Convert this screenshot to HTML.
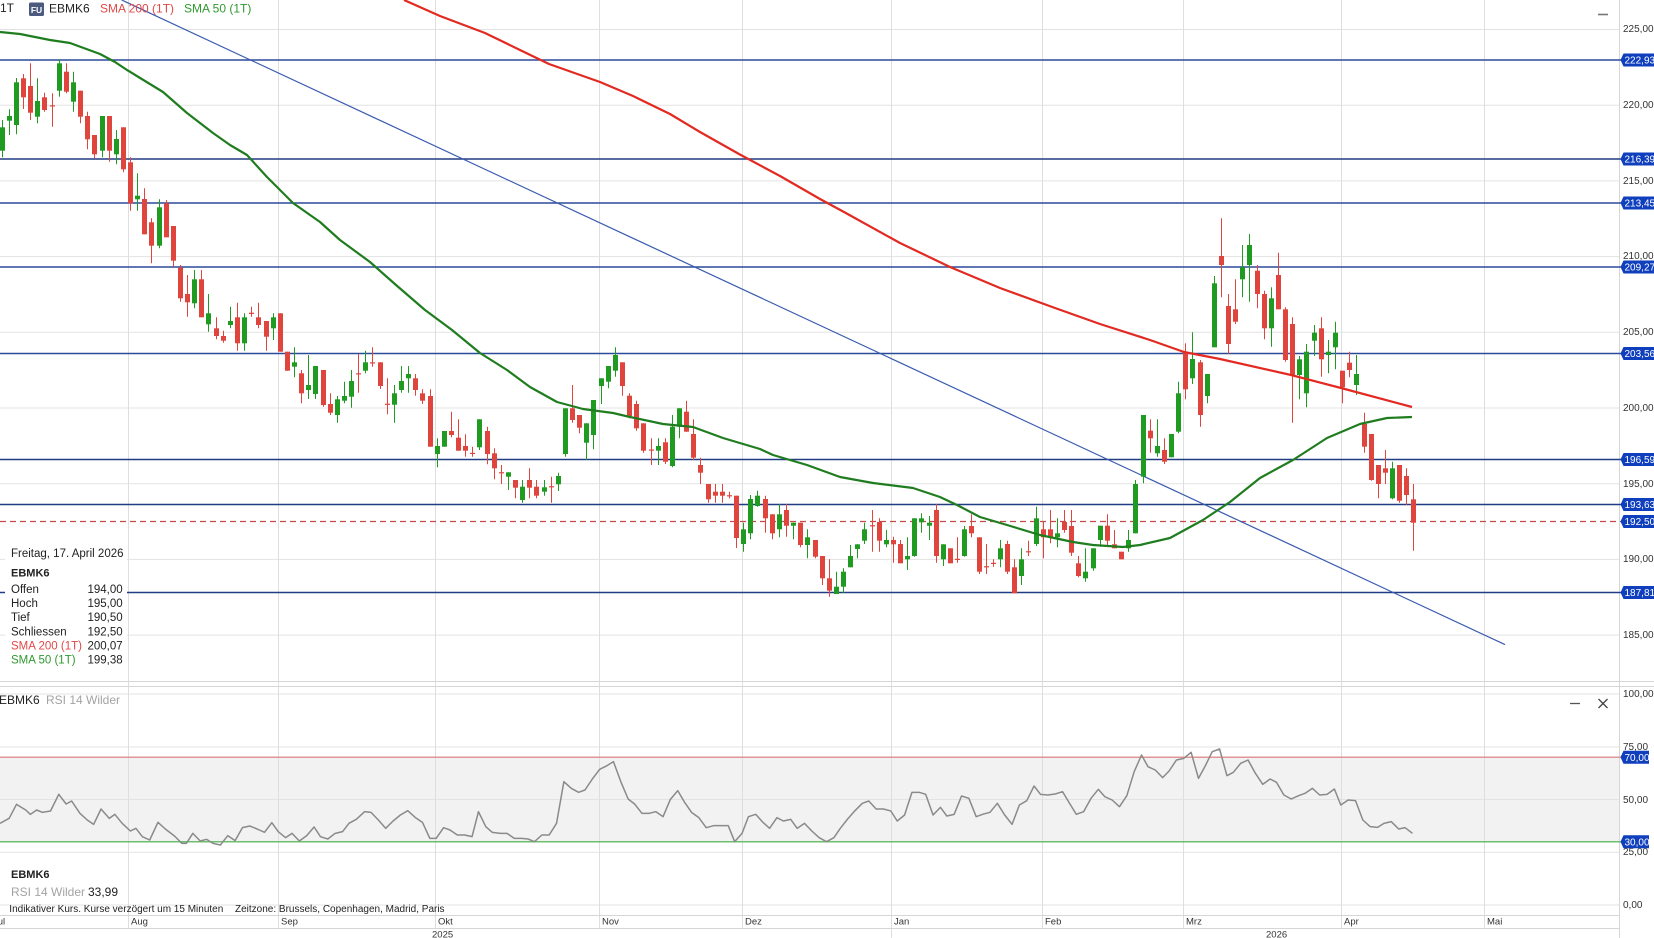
<!DOCTYPE html>
<html><head><meta charset="utf-8"><style>
html,body{margin:0;padding:0;background:#fff;}
svg{display:block;}
text{font-family:"Liberation Sans",Arial,sans-serif;}
</style></head><body>
<svg id="c" width="1654" height="938" viewBox="0 0 1654 938" xmlns="http://www.w3.org/2000/svg">
<rect x="0" y="0" width="1654" height="938" fill="#fff"/>
<rect x="0" y="757.3" width="1619" height="84.4" fill="#f2f2f2"/>
<g stroke="#e3e3e3" stroke-width="1">
<line x1="0" y1="29.5" x2="1619" y2="29.5"/>
<line x1="0" y1="105.2" x2="1619" y2="105.2"/>
<line x1="0" y1="180.9" x2="1619" y2="180.9"/>
<line x1="0" y1="256.6" x2="1619" y2="256.6"/>
<line x1="0" y1="332.3" x2="1619" y2="332.3"/>
<line x1="0" y1="408" x2="1619" y2="408"/>
<line x1="0" y1="483.7" x2="1619" y2="483.7"/>
<line x1="0" y1="559.4" x2="1619" y2="559.4"/>
<line x1="0" y1="635.1" x2="1619" y2="635.1"/>
<line x1="0" y1="694" x2="1619" y2="694"/>
<line x1="0" y1="747" x2="1619" y2="747"/>
<line x1="0" y1="799.5" x2="1619" y2="799.5"/>
<line x1="0" y1="852.3" x2="1619" y2="852.3"/>
<line x1="0" y1="905" x2="1619" y2="905"/>
</g>
<g stroke="#dedede" stroke-width="1">
<line x1="128.5" y1="0" x2="128.5" y2="928"/>
<line x1="278.5" y1="0" x2="278.5" y2="928"/>
<line x1="435.5" y1="0" x2="435.5" y2="928"/>
<line x1="599.5" y1="0" x2="599.5" y2="928"/>
<line x1="742.5" y1="0" x2="742.5" y2="928"/>
<line x1="891.5" y1="0" x2="891.5" y2="938"/>
<line x1="1042.5" y1="0" x2="1042.5" y2="928"/>
<line x1="1183.5" y1="0" x2="1183.5" y2="928"/>
<line x1="1341.5" y1="0" x2="1341.5" y2="928"/>
<line x1="1484.5" y1="0" x2="1484.5" y2="928"/>
</g>
<g stroke="#d6d6d6" stroke-width="1">
<line x1="0" y1="681.5" x2="1654" y2="681.5"/>
<line x1="0" y1="686.5" x2="1654" y2="686.5"/>
<line x1="0" y1="915.5" x2="1619" y2="915.5"/>
<line x1="0" y1="928.5" x2="1619" y2="928.5"/>
<line x1="1619.5" y1="0" x2="1619.5" y2="938"/>
</g>
<g stroke="#2b4a9c" stroke-width="1.5">
<line x1="0" y1="60" x2="1621" y2="60"/>
<line x1="0" y1="159" x2="1621" y2="159" stroke="#203c84"/>
<line x1="0" y1="203" x2="1621" y2="203"/>
<line x1="0" y1="267" x2="1621" y2="267"/>
<line x1="0" y1="353.5" x2="1621" y2="353.5"/>
<line x1="0" y1="459.5" x2="1621" y2="459.5" stroke="#203c84"/>
<line x1="0" y1="504.5" x2="1621" y2="504.5" stroke="#203c84"/>
<line x1="0" y1="592.5" x2="1621" y2="592.5" stroke="#203c84"/>
</g>
<line x1="0" y1="521.5" x2="1621" y2="521.5" stroke="#c24a4a" stroke-width="1.2" stroke-dasharray="6,4"/>
<line x1="121.7" y1="0" x2="1505" y2="644.6" stroke="#3a5bb0" stroke-width="1.2"/>
<g id="candles"></g>
<polyline fill="none" stroke="#e22a22" stroke-width="2.2" stroke-linejoin="round" points="404,0 440,16 485,33 520,50 549,64 600,82 633,96 670,114 700,132 739,154 780,176 820,199 844,212 900,243 950,267 1000,288 1055,308 1100,324 1150,340 1184,352 1220,359 1291,375 1341,388 1412,407"/>
<polyline fill="none" stroke="#1f7d1f" stroke-width="2.2" stroke-linejoin="round" points="0,32 20,34 50,40 70,43 100,54 115,62 127,70 145,81 163,92 187,113 213,133 230,145 247,155 267,177 293,203 320,222 340,240 370,262 396,285 425,310 452,330 480,353 507,370 530,387 557,402 583,409 613,413 630,417 663,424 693,427 723,438 760,449 773,455 807,465 840,477 873,483 913,488 940,497 957,505 980,517 1007,525 1040,535 1073,542 1093,545 1123,547 1140,545 1170,538 1203,520 1230,502 1260,478 1293,460 1327,438 1360,424 1387,418 1412,417"/>
<line x1="0" y1="757.3" x2="1621" y2="757.3" stroke="#e39494" stroke-width="1.5"/>
<line x1="0" y1="841.7" x2="1621" y2="841.7" stroke="#6cbf6c" stroke-width="1.5"/>
<polyline fill="none" stroke="#8a8a8a" stroke-width="1.5" vector-effect="non-scaling-stroke" stroke-linejoin="round" transform="translate(0 705) scale(0.91836 0.333333)" points="0,355 10,340 18,298 28,315 33,328 40,315 46,322 55,318 64,268 72,297 78,288 87,325 95,345 102,358 110,312 119,340 125,328 133,355 142,378 148,370 155,395 163,405 172,352 180,372 190,393 198,415 203,415 210,385 218,408 225,403 232,415 240,420 248,392 256,407 264,368 272,363 280,372 288,382 296,353 303,380 311,398 318,385 326,408 334,392 342,366 349,395 357,402 365,385 373,380 380,355 388,343 397,320 404,322 412,345 420,370 428,348 436,330 444,317 452,337 460,352 468,400 475,400 483,368 490,375 498,390 506,390 514,395 521,320 529,365 536,382 545,385 552,385 560,400 568,400 575,402 582,410 590,390 598,390 606,355 614,230 622,250 630,262 637,255 645,222 653,193 661,182 668,170 676,230 684,282 691,297 699,325 707,325 714,320 722,335 730,283 738,257 745,290 753,322 761,338 769,368 777,362 785,362 793,362 800,410 808,385 815,335 823,328 830,350 838,370 846,338 853,348 861,343 868,370 876,355 884,378 892,398 900,410 908,398 915,370 923,342 931,317 939,295 946,288 954,312 962,312 970,318 977,348 985,330 993,262 1001,262 1008,268 1016,330 1024,307 1031,333 1039,328 1047,273 1055,280 1063,335 1070,328 1078,322 1086,295 1094,330 1102,358 1110,300 1118,287 1126,243 1133,268 1141,270 1149,267 1157,260 1164,292 1172,328 1180,320 1188,280 1196,253 1203,275 1211,285 1219,305 1227,272 1235,200 1243,150 1250,185 1258,195 1266,218 1273,198 1281,165 1289,160 1297,142 1305,220 1312,185 1320,140 1328,132 1336,212 1343,202 1351,175 1359,165 1367,205 1375,238 1383,222 1390,232 1398,270 1406,282 1414,272 1421,265 1429,250 1437,270 1445,268 1453,252 1460,300 1468,285 1476,287 1484,345 1492,365 1500,367 1507,355 1515,350 1523,372 1530,368 1538,385"/>

<g font-size="10" fill="#333">
<text x="1623" y="32">225,00</text>
<text x="1623" y="108">220,00</text>
<text x="1623" y="184">215,00</text>
<text x="1623" y="259">210,00</text>
<text x="1623" y="335">205,00</text>
<text x="1623" y="411">200,00</text>
<text x="1623" y="487">195,00</text>
<text x="1623" y="562">190,00</text>
<text x="1623" y="638">185,00</text>
<text x="1623" y="697">100,00</text>
<text x="1623" y="750">75,00</text>
<text x="1623" y="803">50,00</text>
<text x="1623" y="855">25,00</text>
<text x="1623" y="908">0,00</text>
</g>
<g id="boxes"></g>

<rect x="5" y="537" width="122" height="139" fill="#fff"/>
<g font-size="11.5" fill="#222">
<text x="11" y="557">Freitag, 17. April 2026</text>
<text x="11" y="576.5" font-weight="bold" font-size="11">EBMK6</text>
<text x="11" y="593">Offen</text>
<text x="11" y="607">Hoch</text>
<text x="11" y="621">Tief</text>
<text x="11" y="635.5">Schliessen</text>
<text x="11" y="649.5" fill="#e04848">SMA 200 (1T)</text>
<text x="11" y="663.5" fill="#2f9a2f">SMA 50 (1T)</text>
<g text-anchor="end">
<text x="122.7" y="593">194,00</text>
<text x="122.7" y="607">195,00</text>
<text x="122.7" y="621">190,50</text>
<text x="122.7" y="635.5">192,50</text>
<text x="122.7" y="649.5">200,07</text>
<text x="122.7" y="663.5">199,38</text>
</g>
</g>

<g font-size="12">
<text x="0" y="12" fill="#222">1T</text>
<rect x="29" y="2.5" width="15" height="13.5" rx="1.5" fill="#4d5a80"/>
<text x="36.5" y="13" font-size="8.5" font-weight="bold" fill="#fff" text-anchor="middle">FU</text>
<text x="49" y="12.5" fill="#222">EBMK6</text>
<text x="100" y="12.5" fill="#e04848">SMA 200 (1T)</text>
<text x="184" y="12.5" fill="#2f9a2f">SMA 50 (1T)</text>
</g>
<line x1="1598" y1="14.5" x2="1608" y2="14.5" stroke="#777" stroke-width="1.6"/>

<g font-size="12">
<text x="-1" y="704" fill="#222">EBMK6</text>
<text x="46" y="704" fill="#a3a3a3">RSI 14 Wilder</text>
</g>
<line x1="1570" y1="703.5" x2="1580" y2="703.5" stroke="#555" stroke-width="1.3"/>
<path d="M1598.5,699 L1607.5,708 M1607.5,699 L1598.5,708" stroke="#444" stroke-width="1.3"/>

<g font-size="12">
<text x="11" y="878" fill="#222" font-weight="bold" font-size="11">EBMK6</text>
<text x="11" y="896" fill="#a3a3a3">RSI 14 Wilder</text>
<text x="88" y="896" fill="#222">33,99</text>
</g>
<g font-size="10" fill="#222">
<text x="9.3" y="912">Indikativer Kurs. Kurse verzögert um 15 Minuten</text>
<text x="235" y="912">Zeitzone: Brussels, Copenhagen, Madrid, Paris</text>
</g>
<g font-size="9.5" fill="#333">
<text x="-7" y="924.5">Jul</text>
<text x="131" y="924.5">Aug</text>
<text x="281" y="924.5">Sep</text>
<text x="438" y="924.5">Okt</text>
<text x="602" y="924.5">Nov</text>
<text x="745" y="924.5">Dez</text>
<text x="894" y="924.5">Jan</text>
<text x="1045" y="924.5">Feb</text>
<text x="1186" y="924.5">Mrz</text>
<text x="1344" y="924.5">Apr</text>
<text x="1487" y="924.5">Mai</text>
<text x="432" y="937.5">2025</text>
<text x="1266" y="937.5">2026</text>
</g>
</svg>
<script>
(function(){
var NS="http://www.w3.org/2000/svg";
var d=[
[127.3,150.7,120,157.3,1],[116,120.7,109.3,135,1],[82.3,125,78,134.3,1],[78.3,97.3,74,109,0],[86,112.7,63.3,120,0],
[101,116.7,78.3,123.3,1],[97.3,110,92.7,111.7,0],[105.3,106.3,93.3,126.7,0],[63.3,90.7,59.3,96.7,1],[71.7,91.7,63.3,93.3,0],
[82.3,101.7,71.7,111.7,1],[90.7,116.7,90.7,123.3,0],[116,139.3,111.7,149.3,0],[135,154.3,135,158.3,0],[116,150.7,116,157.3,1],
[116,150.7,116,161.7,0],[139,154.3,130,164.3,1],[127.3,169.3,127.3,172.3,0],[162.3,203.3,157.3,210.7,0],[195.7,199.3,173.3,210.7,1],
[199,234.3,188.3,234.3,0],[222.3,245.7,218.3,263.3,0],[207.3,245.7,199.3,248.3,1],[203.3,237.3,200,237.3,0],[226,260.7,226,266.7,0],
[267.7,298.3,265,301.7,0],[294,302.3,275,316.7,0],[279.3,303.3,270,308.3,1],[279.3,317.3,270,317.3,0],[313.3,324.3,294,331.7,1],
[328.3,336,317.3,339.3,0],[336,340.7,330.7,342.7,0],[321,325,306.7,328.3,1],[317.3,343.3,302.7,350.7,0],[317.3,343.3,313.3,350.7,1],
[312.7,314,306.7,316.7,0],[317.3,325,302.7,328.3,0],[321,336.7,321,350.7,0],[317.3,328.3,313.3,340,1],[313.3,351.7,313.3,351.7,0],
[351.7,370.7,351.7,370.7,0],[362.3,366.7,347.3,377.3,1],[373.3,393.3,370,403.3,0],[385,390,355,399,1],[366,394,366,399,1],
[370,405,370,406.7,0],[404,412.7,393.3,415,0],[399.3,415,396,422.7,1],[396,400.7,381.7,403.3,1],[381,396.7,370,407.7,1],
[373.3,374.3,354,392.7,0],[362.3,370.7,350.7,373.3,1],[362.3,363.3,347.3,366.7,0],[362.3,386,362.3,389,0],[403.7,404.7,378.3,414.3,0],
[393.3,404.7,385,422.7,1],[381,390,366,392.7,1],[374,378.3,366,392.7,1],[378.3,390,374,395.7,0],[393.3,400.7,389.3,404,0],
[396,446.7,389.3,446.7,0],[446,454,438.3,467.3,1],[431,446.7,431,446.7,1],[431,435,411.7,437.3,0],[437.7,450.7,419.3,450.7,0],
[446,450.7,434.3,456.7,0],[452.8,453.8,446.7,456.7,0],[419.3,447.3,419.3,450,1],[431,454,426.7,464.3,0],[453.3,468.3,448.3,479.3,0],
[472.2,473.2,465,484,0],[472.3,476.7,472.3,490,1],[480,487.7,480,498.3,0],[486.7,500,480,502.7,1],[480,487.7,468.3,498.3,0],
[486.7,495.7,480,498.3,0],[487.3,491.7,480,495.7,1],[486.2,487.2,476.7,502.7,0],[476,484.3,472.7,491,1],[408.3,454,408.3,456.7,1],
[408.3,420,385,422.7,0],[415,427.7,415,433.3,0],[423.3,442.7,423.3,460,1],[400,435,400,449.3,1],[378.3,386,378.3,404,1],
[366,381.7,366,388.3,1],[355,370.7,347.3,376.7,1],[362.3,386,362.3,395.7,0],[395.7,416,393.3,418.3,0],[404,428.3,400.7,430.7,0],
[423.3,450.7,423.3,452.7,0],[449.5,450.5,438.3,465,0],[446,450.7,438.3,465,1],[442.3,461.7,438.3,464,0],[426.7,466,415,467.3,1],
[408.3,426.7,408.3,438.3,1],[411.7,431.7,400.7,431.7,0],[434,457.7,419.3,460,0],[465,472.7,457.7,484,0],[484,499.3,484,502.7,0],
[491.7,495.7,484,502.7,0],[491.7,495.7,484,502.7,0],[495.2,496.2,491.7,498.3,0],[495.7,538,495.7,548,0],[529.3,544,522.7,551.7,1],
[499,533.3,495,539.3,1],[495.7,506,490.7,506.7,1],[499,518.3,495.7,532.7,0],[514.3,533.3,514.3,539.3,0],[514.3,529.3,504,537.3,1],
[510,525.7,504,536.7,0],[522.7,525.7,522.7,539.3,1],[522.7,545,522.7,547.3,0],[537.3,545,529.3,558.3,1],[540,556.7,540,558.3,0],
[556,578.3,556,585,0],[578.3,590.7,559.3,596.7,0],[586.7,594,571.7,594,1],[571.7,586.7,568.3,593.3,1],[556,567.3,545,567.3,1],
[544.3,549,544.3,558.3,1],[529.3,540.7,522.7,544,1],[525.2,526.2,510,551.7,0],[522,540.7,518.3,551.7,0],[540,544.3,530,547.3,1],
[540,544.3,536.7,562.7,0],[544,563.3,540,563.3,0],[556,559.3,537.3,570,1],[518.3,556,518.3,556.7,1],[518.3,522.3,513.3,532.7,1],
[522.7,525.7,516,540,1],[510,556,504,562.7,0],[544.3,559.3,544.3,566,1],[548.3,563.3,548.3,563.3,0],[558.8,559.8,537.3,562.7,0],
[529.3,556,526,556.7,1],[526,533.3,514.3,537.3,0],[537.3,571.7,537.3,574,0],[566.2,567.2,544,574,0],[562.8,563.8,559.3,566.7,0],
[548.3,559.3,540,567.3,1],[544,571.7,540.7,574,0],[567.3,593.3,559.3,593.3,0],[559.3,576,548.3,585,1],[551.2,552.2,540.7,556,0],
[518.3,544,506.7,546,1],[529.3,537.3,522,558.3,0],[529.3,537.3,510,543.3,0],[533.3,537.3,518.3,547.3,1],[522,530,510,532.7,0],
[526,552.7,510,556,0],[563.3,576,556,577.3,0],[571.7,578.3,548.3,581.7,1],[548.3,568.3,548.3,570.7,1],[525.7,540,525.7,546.7,1],
[525.7,540.7,514.3,545,0],[544.3,548.3,530,548.3,0],[551.7,559.3,551.7,559.3,0],[540,548.3,530,551.7,1],[484,533.3,480,533.3,1],
[415,476.7,415,483.3,1],[430.7,438.3,419.3,452.7,0],[446,453.3,419.3,456.7,1],[450,461.7,438.3,464,0],[434,457.3,434,457.3,1],
[393.3,431.7,381.7,433.3,1],[351.7,389.3,343.3,399.3,0],[359,378.3,332.3,384,1],[362.3,415,360,426.7,0],[374,396,374,403.3,1],
[283.3,347.3,276,347.3,1],[256,265,218.3,297.3,0],[306,344,294,354,0],[309.3,321.7,279.3,324,0],[267.3,279.3,245,297.3,1],
[245,265,234,301.7,1],[270.7,294,265,308.3,0],[294,328.3,290.7,339.3,0],[298.3,328.3,287.3,346.7,1],[275,309.3,252.7,309.3,0],
[309.3,360,307.3,361.7,0],[324,375,317.3,422.7,0],[359.3,375,356,399.3,1],[351.7,393.3,344,407.3,1],[332.7,340.7,325,356,1],
[328.3,359.3,317.3,376.7,0],[351.7,355,340,373.3,1],[332.7,347.3,321.7,369.3,1],[370.7,387.3,370.7,403.3,0],[362.7,370,351.7,377.3,0],
[374,385,355,395,1],[424,446.7,412.7,452.7,0],[434,480,434,480.7,0],[465,484,465,498.3,0],[468.3,472.7,450,484,0],
[468.3,498.3,461.7,499.3,1],[465,500.7,465,502.7,0],[476,495,468.3,505,0],[499.3,522.7,484,550.7,0]
];
var g=document.getElementById('candles');
for(var i=0;i<d.length;i++){
  var c=d[i],x=1.7+7.13*i,col=c[4]?'#1f9b22':'#e0453d';
  var xr=Math.round(x);
  var w=document.createElementNS(NS,'line');
  w.setAttribute('x1',xr+0.5);w.setAttribute('x2',xr+0.5);
  w.setAttribute('y1',c[2]);w.setAttribute('y2',c[3]);
  w.setAttribute('stroke',col);w.setAttribute('stroke-width','1');
  g.appendChild(w);
  var r=document.createElementNS(NS,'rect');
  var h=Math.max(1.2,c[1]-c[0]);
  r.setAttribute('x',xr-2);r.setAttribute('width',5);
  r.setAttribute('y',c[0]);r.setAttribute('height',h);
  r.setAttribute('fill',col);
  g.appendChild(r);
}
var bx=[[60,'222,93'],[159,'216,39'],[203,'213,45'],[267,'209,27'],[353.5,'203,56'],[459.5,'196,59'],[504.5,'193,63'],[521.5,'192,50'],[592.5,'187,81'],[757.3,'70,00',1],[841.7,'30,00',1]];
var gb=document.getElementById('boxes');
for(var j=0;j<bx.length;j++){
  var y=bx[j][0],right=bx[j][2]?1649:1656;
  var p=document.createElementNS(NS,'polygon');
  p.setAttribute('points','1620.5,'+y+' 1623.5,'+(y-6.5)+' '+right+','+(y-6.5)+' '+right+','+(y+6.5)+' 1623.5,'+(y+6.5));
  p.setAttribute('fill','#0f3fbd');
  gb.appendChild(p);
  var t=document.createElementNS(NS,'text');
  t.setAttribute('x',1624.5);t.setAttribute('y',y+3.6);
  t.setAttribute('font-size','10');t.setAttribute('fill','#fff');
  t.textContent=bx[j][1];
  gb.appendChild(t);
}
})();
</script>
</body></html>
